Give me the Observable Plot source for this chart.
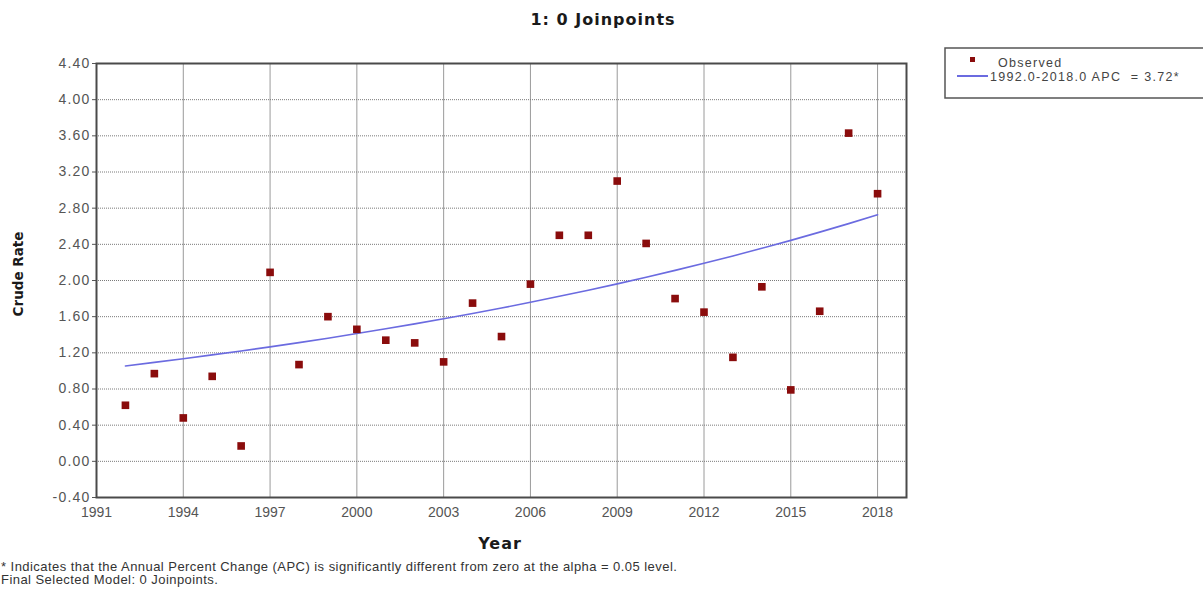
<!DOCTYPE html>
<html>
<head>
<meta charset="utf-8">
<script src="https://cdn.jsdelivr.net/npm/d3@7"></script>
<script src="https://cdn.jsdelivr.net/npm/@observablehq/plot@0.6"></script>
<style>
  html, body { margin: 0; padding: 0; background: #fff; }
  #chart { width: 1203px; height: 595px; overflow: hidden; }
</style>
</head>
<body>
<div id="chart"></div>
<script>
// Crude rate by year with the joinpoint model fit (0 joinpoints)
const years = [1992, 1993, 1994, 1995, 1996, 1997, 1998, 1999, 2000, 2001, 2002, 2003, 2004, 2005,
               2006, 2007, 2008, 2009, 2010, 2011, 2012, 2013, 2014, 2015, 2016, 2017, 2018];
const observed = [0.62, 0.97, 0.48, 0.94, 0.17, 2.09, 1.07, 1.60, 1.46, 1.34, 1.31, 1.10, 1.75, 1.38,
                  1.96, 2.50, 2.50, 3.10, 2.41, 1.80, 1.65, 1.15, 1.93, 0.79, 1.66, 3.63, 2.96];
// Modeled rate, segment 1992.0-2018.0, APC = 3.72% per year
const modeled = [1.055, 1.094, 1.135, 1.177, 1.221, 1.266, 1.313, 1.362, 1.413, 1.466, 1.520, 1.577, 1.635, 1.696,
                 1.759, 1.825, 1.893, 1.963, 2.036, 2.112, 2.190, 2.272, 2.356, 2.444, 2.535, 2.629, 2.727];
const xTicks = [1991, 1994, 1997, 2000, 2003, 2006, 2009, 2012, 2015, 2018];
const yTicks = [-0.40, 0.00, 0.40, 0.80, 1.20, 1.60, 2.00, 2.40, 2.80, 3.20, 3.60, 4.00, 4.40];

const titleText = "1: 0 Joinpoints";
const xLabel = "Year";
const yLabel = "Crude Rate";
const legendObserved = "Observed";
const legendModel = "1992.0-2018.0 APC  = 3.72*";
const footnotes = [
  "* Indicates that the Annual Percent Change (APC) is significantly different from zero at the alpha = 0.05 level.",
  "Final Selected Model: 0 Joinpoints."
];

const obsColor = "#8a0c0c";
const lineColor = "#6b6be0";

const obsData = years.map((year, i) => ({year, rate: observed[i]}));
const fitData = years.map((year, i) => ({year, rate: modeled[i]}));

const svg = Plot.plot({
  width: 1203,
  height: 595,
  marginLeft: 96,
  marginRight: 297,
  marginTop: 63,
  marginBottom: 98,
  style: {fontFamily: "Liberation Sans, Arial, sans-serif", fontSize: "14px", color: "#555", background: "#fff"},
  x: {domain: [1991, 2019]},
  y: {domain: [-0.4, 4.4]},
  marks: [
    Plot.ruleX(xTicks.slice(1), {stroke: "#9a9a9a", strokeWidth: 1}),
    Plot.ruleY(yTicks.slice(1, -1), {stroke: "#7a7a7a", strokeWidth: 1, strokeDasharray: "1,1"}),
    Plot.axisY({ticks: yTicks, tickFormat: d => d.toFixed(2), tickSize: 4, tickPadding: 2, label: null, stroke: "#555"}),
    Plot.axisX({ticks: xTicks, tickFormat: d => String(d), tickSize: 0, tickPadding: 10, label: null}),
    Plot.line(fitData, {x: "year", y: "rate", stroke: lineColor, strokeWidth: 1.6}),
    Plot.dot(obsData, {x: "year", y: "rate", symbol: "square", r: 4.3, fill: obsColor, stroke: "none"}),
    Plot.frame({stroke: "#4a4a4a", strokeWidth: 2})
  ]
});
document.getElementById("chart").appendChild(svg);

const s = d3.select(svg);
// y tick labels are set a little wider
s.selectAll("g[aria-label='y-axis tick label'] text").attr("letter-spacing", "1.2px");

const addText = (x, y, str, opts = {}) =>
  s.append("text").attr("x", x).attr("y", y).attr("text-anchor", opts.anchor || "start")
    .attr("font-family", opts.family || "Liberation Sans, Arial, sans-serif")
    .attr("font-weight", opts.weight || "normal").attr("font-size", opts.size || 12)
    .attr("letter-spacing", opts.spacing || "0px").attr("fill", opts.fill || "#333")
    .attr("transform", opts.transform || null).text(str);

// title and axis titles
addText(603, 25, titleText, {anchor: "middle", family: "DejaVu Sans, sans-serif", weight: "bold", size: 16, spacing: "1px", fill: "#1a1a1a"});
addText(500, 549, xLabel, {anchor: "middle", family: "DejaVu Sans, sans-serif", weight: "bold", size: 16, spacing: "1px", fill: "#1a1a1a"});
addText(0, 0, yLabel, {anchor: "middle", family: "DejaVu Sans, sans-serif", weight: "bold", size: 13.5, fill: "#1a1a1a", transform: "translate(23,274) rotate(-90)"});

// legend box, running past the right edge
const lg = s.append("g");
lg.append("rect").attr("x", 945).attr("y", 48).attr("width", 330).attr("height", 50)
  .attr("fill", "#fff").attr("stroke", "#555").attr("stroke-width", 1.5);
lg.append("rect").attr("x", 970).attr("y", 57).attr("width", 5).attr("height", 5).attr("fill", obsColor);
lg.append("line").attr("x1", 957).attr("x2", 988).attr("y1", 76).attr("y2", 76)
  .attr("stroke", lineColor).attr("stroke-width", 2);
addText(998, 67, legendObserved, {size: 12.5, fill: "#444", spacing: "1.3px"});
addText(990, 81, legendModel, {size: 12.5, fill: "#444", spacing: "1.3px"});

// footnotes
addText(1, 571, footnotes[0], {size: 13, fill: "#333", spacing: "0.45px"});
addText(1, 584, footnotes[1], {size: 13, fill: "#333", spacing: "0.45px"});
</script>
</body>
</html>
